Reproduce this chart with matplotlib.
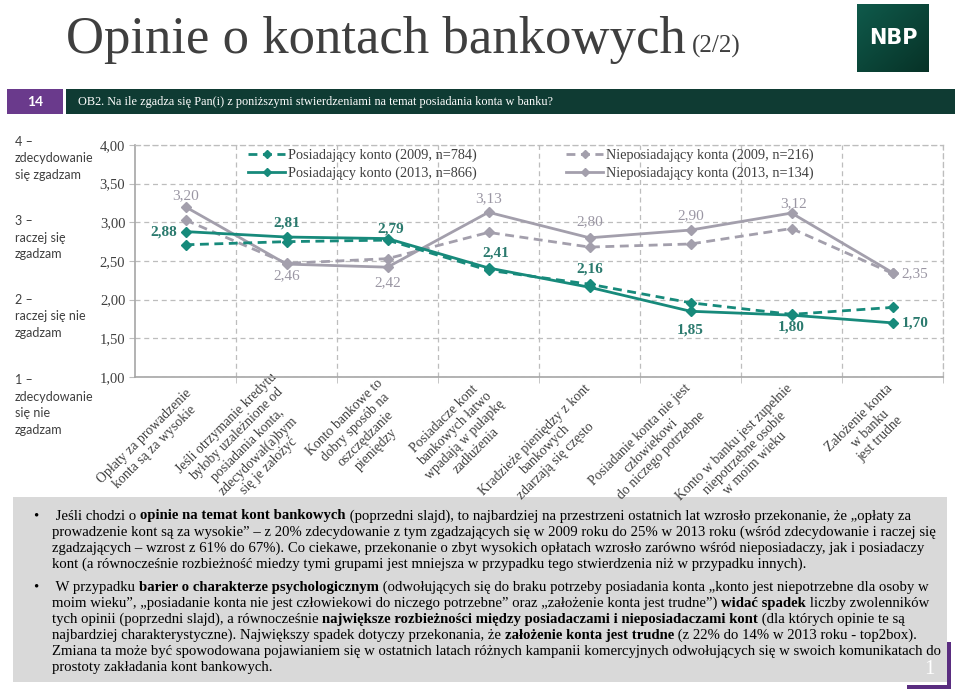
import matplotlib
matplotlib.use('Agg')
import matplotlib.pyplot as plt
from matplotlib.patches import Rectangle
from matplotlib.colors import LinearSegmentedColormap
import matplotlib.transforms as mtransforms
import numpy as np

# ---------------- data ----------------
categories = [
    "Opłaty za prowadzenie\nkonta są za wysokie",
    "Jeśli otrzymanie kredytu\nbyłoby uzależnione od\nposiadania konta,\nzdecydował(a)bym\nsię je założyć",
    "Konto bankowe to\ndobry sposób na\noszczędzanie\npieniędzy",
    "Posiadacze kont\nbankowych łatwo\nwpadają w pułapkę\nzadłużenia",
    "Kradzieże pieniędzy z kont\nbankowych\nzdarzają się często",
    "Posiadanie konta nie jest\nczłowiekowi\ndo niczego potrzebne",
    "Konto w banku jest zupełnie\nniepotrzebne osobie\nw moim wieku",
    "Założenie konta\nw banku\njest trudne",
]
own_2009 = [2.71, 2.75, 2.77, 2.38, 2.20, 1.96, 1.81, 1.90]
own_2013 = [2.88, 2.81, 2.79, 2.41, 2.16, 1.85, 1.80, 1.70]
non_2009 = [3.03, 2.47, 2.53, 2.87, 2.68, 2.72, 2.92, 2.34]
non_2013 = [3.20, 2.46, 2.42, 3.13, 2.80, 2.90, 3.12, 2.35]
series_names = ["Posiadający konto (2009, n=784)",
                "Posiadający konto (2013, n=866)",
                "Nieposiadający konta (2009, n=216)",
                "Nieposiadający konta (2013, n=134)"]
yticks = [1.0, 1.5, 2.0, 2.5, 3.0, 3.5, 4.0]
scale_labels = ["4 –\nzdecydowanie\nsię zgadzam",
                "3 –\nraczej się\nzgadzam",
                "2 –\nraczej się nie\nzgadzam",
                "1 –\nzdecydowanie\nsię nie\nzgadzam"]

title_main = "Opinie o kontach bankowych"
title_part = "(2/2)"
slide_no = "14"
page_no = "1"
question = "OB2. Na ile zgadza się Pan(i) z poniższymi stwierdzeniami na temat posiadania konta w banku?"

bullet1 = [
    [(" Jeśli chodzi o ", False), ("opinie na temat kont bankowych", True),
     (" (poprzedni slajd), to najbardziej na przestrzeni ostatnich lat wzrosło przekonanie, że „opłaty za", False)],
    [("prowadzenie kont są za wysokie” – z 20% zdecydowanie z tym zgadzających się w 2009 roku do 25% w 2013 roku (wśród zdecydowanie i raczej się", False)],
    [("zgadzających – wzrost z 61% do 67%). Co ciekawe, przekonanie o zbyt wysokich opłatach wzrosło zarówno wśród nieposiadaczy, jak i posiadaczy", False)],
    [("kont (a równocześnie rozbieżność miedzy tymi grupami jest mniejsza w przypadku tego stwierdzenia niż w przypadku innych).", False)],
]
bullet2 = [
    [(" W przypadku ", False), ("barier o charakterze psychologicznym", True),
     (" (odwołujących się do braku potrzeby posiadania konta „konto jest niepotrzebne dla osoby w", False)],
    [("moim wieku”, „posiadanie konta nie jest człowiekowi do niczego potrzebne” oraz „założenie konta jest trudne”) ", False),
     ("widać spadek", True), (" liczby zwolenników", False)],
    [("tych opinii (poprzedni slajd), a równocześnie ", False),
     ("największe rozbieżności między posiadaczami i nieposiadaczami kont", True),
     (" (dla których opinie te są", False)],
    [("najbardziej charakterystyczne). Największy spadek dotyczy przekonania, że ", False),
     ("założenie konta jest trudne", True), (" (z 22% do 14% w 2013 roku - top2box).", False)],
    [("Zmiana ta może być spowodowana pojawianiem się w ostatnich latach różnych kampanii komercyjnych odwołujących się w swoich komunikatach do", False)],
    [("prostoty zakładania kont bankowych.", False)],
]

# ---------------- style ----------------
W, H = 960, 691
SERIF = 'Liberation Serif'
SANS = 'Lato'
TEAL = '#178a7b'
TEAL_TXT = '#2b7a6e'
GREY = '#a39fac'
GREY_TXT = '#9a96a3'
GRID = '#bdbdbd'
DARK = '#3f3f3f'
PURPLE = '#6a3a8c'
BAR_GREEN = '#0f3b33'

fig = plt.figure(figsize=(W / 100, H / 100), dpi=100)
fig.patch.set_facecolor('white')


def P(x, y):
    return (x / W, 1 - y / H)


def prect(x0, y0, x1, y1, color, z=0):
    fig.patches.append(Rectangle(P(x0, y1), (x1 - x0) / W, (y1 - y0) / H,
                                 transform=fig.transFigure, facecolor=color,
                                 edgecolor='none', zorder=z))


# ---------------- header ----------------
t1 = fig.text(*P(66, 53), title_main, fontsize=38, family=SERIF, color=DARK,
              va='baseline', ha='left')
fig.canvas.draw()
r = fig.canvas.get_renderer()
bb = t1.get_window_extent(r)
fig.text(bb.x1 / W + 6 / W, 1 - 53 / H, title_part, fontsize=18, family=SERIF,
         color=DARK, va='baseline', ha='left')

# NBP logo with gradient
logo_ax = fig.add_axes([857 / W, 1 - 72 / H, 72 / W, 68 / H])
gx, gy = np.meshgrid(np.linspace(0, 1, 60), np.linspace(0, 1, 60))
g = (gx + gy) / 2
cm = LinearSegmentedColormap.from_list('nbp', ['#0f5a4b', '#073227'])
logo_ax.imshow(g, cmap=cm, aspect='auto', extent=[0, 1, 0, 1], origin='upper')
logo_ax.set_axis_off()
logo_ax.text(0.5, 0.5, "NBP", color='white', fontsize=15, fontweight='bold',
             family='DejaVu Sans', ha='center', va='center',
             transform=logo_ax.transAxes)

# question bar
prect(7, 89, 63, 114, PURPLE)
prect(66, 89, 955, 114, BAR_GREEN)
fig.text(*P(35, 102), slide_no, color='white', fontsize=10, fontweight='bold',
         family=SANS, ha='center', va='center')
fig.text(*P(78, 102), question, color='white', fontsize=8.8, family=SERIF,
         ha='left', va='center')

# ---------------- chart ----------------
ax = fig.add_axes([135 / W, 1 - 377 / H, 808 / W, 232 / H])
x = np.arange(len(categories))
dash = (0, (3.2, 2.0))
l_n09, = ax.plot(x, non_2009, color=GREY, lw=2.0, ls=dash, marker='D', ms=5,
                 label=series_names[2], zorder=3)
l_n13, = ax.plot(x, non_2013, color=GREY, lw=2.0, marker='D', ms=5,
                 label=series_names[3], zorder=3)
l_o09, = ax.plot(x, own_2009, color=TEAL, lw=2.0, ls=dash, marker='D', ms=5,
                 label=series_names[0], zorder=4)
l_o13, = ax.plot(x, own_2013, color=TEAL, lw=2.0, marker='D', ms=5,
                 label=series_names[1], zorder=4)

ax.set_xlim(-0.5, len(categories) - 0.5)
ax.set_ylim(1, 4)
ax.set_yticks(yticks)
ax.set_yticklabels([f"{v:.2f}".replace('.', ',') for v in yticks],
                   family=SERIF, fontsize=10.5, color=DARK)
ax.yaxis.grid(True, color=GRID, ls=(0, (4, 3)), lw=0.9)
ax.set_xticks(x)
ax.set_xticks(np.arange(len(categories)) + 0.5, minor=True)
ax.xaxis.grid(True, which='minor', color=GRID, ls=(0, (4, 3)), lw=0.9)
ax.tick_params(axis='x', which='major', length=0, pad=10)
ax.tick_params(axis='x', which='minor', length=4, color=GRID)
ax.tick_params(axis='y', length=4, color=GRID, pad=3)
ax.set_xticklabels(categories, rotation=45, ha='right', va='center',
                   rotation_mode='anchor', family=SERIF, fontsize=9.9,
                   color=DARK, multialignment='center')
offset = mtransforms.ScaledTranslation(9 / 100, -6 / 100, fig.dpi_scale_trans)
for lab in ax.get_xticklabels():
    lab.set_transform(lab.get_transform() + offset)
for s in ['left', 'bottom']:
    ax.spines[s].set_color('#a6a6a6')
    ax.spines[s].set_linewidth(1.2)
for s in ['top', 'right']:
    ax.spines[s].set_color(GRID)
    ax.spines[s].set_linestyle((0, (4, 3)))
    ax.spines[s].set_linewidth(0.9)

# data labels
non_off = [(0, 11), (0, -12), (0, -16), (0, 14), (0, 16), (0, 14), (2, 9), (9, -1)]
non_ha = ['center'] * 7 + ['left']
own_off = [(-8, 0), (0, 14), (3, 10), (7, 15), (0, 18), (0, -19), (0, -12), (9, 0)]
own_ha = ['right'] + ['center'] * 6 + ['left']
for i, v in enumerate(non_2013):
    ax.annotate(f"{v:.2f}".replace('.', ','), (x[i], v), xytext=non_off[i],
                textcoords='offset pixels', ha=non_ha[i], va='center',
                color=GREY_TXT, fontsize=11, family=SERIF, zorder=6)
for i, v in enumerate(own_2013):
    ax.annotate(f"{v:.2f}".replace('.', ','), (x[i], v), xytext=own_off[i],
                textcoords='offset pixels', ha=own_ha[i], va='center',
                color=TEAL_TXT, fontsize=11, family=SERIF, fontweight='bold',
                zorder=6)

leg_kw = dict(loc='upper left', frameon=False,
              prop={'family': SERIF, 'size': 10.3}, handlelength=2.6,
              handletextpad=0.2, labelspacing=0.3, borderaxespad=0,
              borderpad=0.1, labelcolor=DARK, markerscale=0.8)
leg1 = ax.legend(handles=[l_o09, l_o13], bbox_to_anchor=(0.138, 0.99), **leg_kw)
ax.add_artist(leg1)
ax.legend(handles=[l_n09, l_n13], bbox_to_anchor=(0.532, 0.99), **leg_kw)

# scale description labels on the left
scale_y = [136, 215, 294, 374]
for s, yy in zip(scale_labels, scale_y):
    fig.text(*P(15, yy), s, family=SANS, fontsize=9, color=DARK, ha='left',
             va='top', linespacing=1.45)

# ---------------- text box ----------------
prect(13, 497, 947, 682, '#d9d9d9', z=-1)
prect(947, 642, 951, 689, '#5a2d80', z=2)
prect(907, 685, 951, 689, '#5a2d80', z=2)
fig.text(*P(929, 670), page_no, color='white', fontsize=15, family=SERIF,
         ha='center', va='center', zorder=3)

fig.canvas.draw()
r = fig.canvas.get_renderer()


def seg_width(text, bold, size):
    a = fig.text(0, 0, text + "x", fontsize=size, family=SERIF,
                 fontweight='bold' if bold else 'normal')
    b = fig.text(0, 0, "x", fontsize=size, family=SERIF,
                 fontweight='bold' if bold else 'normal')
    w = a.get_window_extent(r).width - b.get_window_extent(r).width
    a.remove()
    b.remove()
    return w


base = 10.0
wref = seg_width(bullet1[1][0][0], False, base)
body_size = base * 888 / wref


def draw_line(x0, y, segs):
    xx = x0
    for text, bold in segs:
        fig.text(xx / W, 1 - y / H, text, fontsize=body_size, family=SERIF,
                 fontweight='bold' if bold else 'normal', color='black',
                 va='center', ha='left')
        xx += seg_width(text, bold, body_size)


line_h = 16.2
y0 = 516
for k, segs in enumerate(bullet1):
    draw_line(52, y0 + k * line_h, segs)
fig.text(*P(36, y0), "•", fontsize=body_size, family=SERIF, va='center', ha='center')
y1 = 587
for k, segs in enumerate(bullet2):
    draw_line(52, y1 + k * line_h, segs)
fig.text(*P(36, y1), "•", fontsize=body_size, family=SERIF, va='center', ha='center')

fig.savefig('out.png', dpi=100)
